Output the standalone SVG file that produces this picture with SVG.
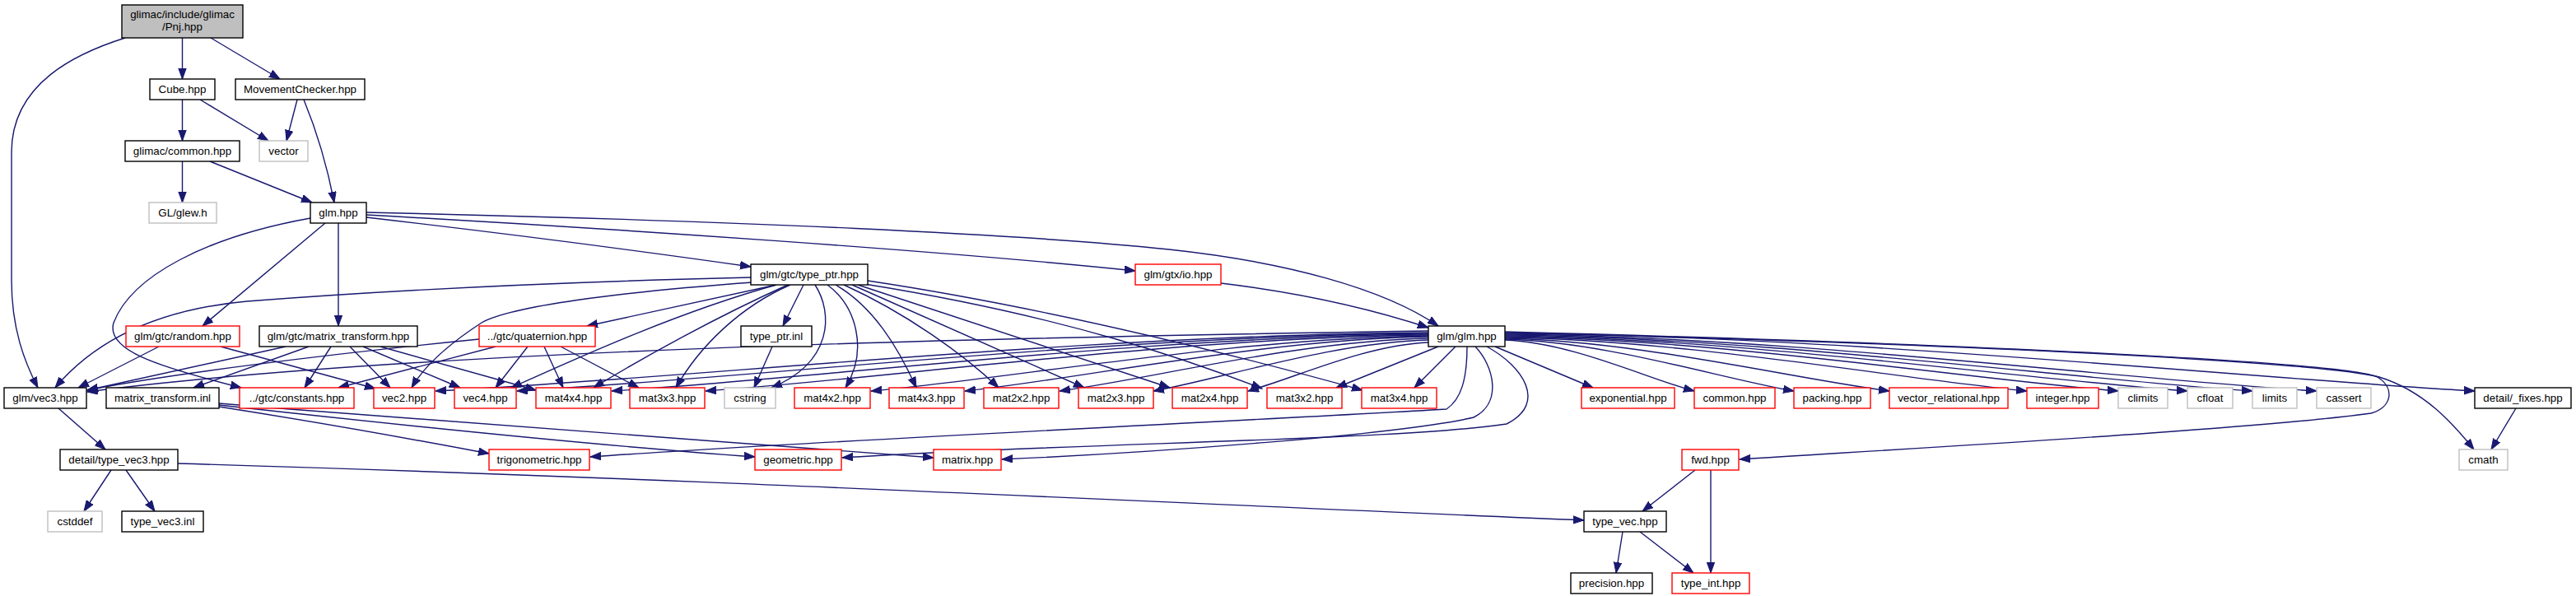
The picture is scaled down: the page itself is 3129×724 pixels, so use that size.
<svg xmlns="http://www.w3.org/2000/svg" width="3129" height="724" viewBox="0 0 3129 724">
<defs>
<marker id="ah" markerUnits="userSpaceOnUse" markerWidth="15" markerHeight="11" refX="13" refY="5" orient="auto">
<path d="M0,0.3 L13,5 L0,9.7 z" fill="#191970" stroke="#191970" stroke-width="1"/>
</marker>
</defs>
<style>
.bg{fill:#ffffff}
.node rect{fill:#ffffff;stroke:#000000;stroke-width:1.4}
.node.red rect{stroke:#ff0000}
.node.gray rect{stroke:#bfbfbf}
.node.root rect{fill:#bfbfbf}
.node text{font-family:"Liberation Sans",Arial,Helvetica,sans-serif;font-size:13.33px;fill:#000000;text-anchor:middle}
#edges path{fill:none;stroke:#191970;stroke-width:1.4;marker-end:url(#ah)}
</style>
<rect class="bg" x="0" y="0" width="3129" height="724"/>
<g id="edges">
<path d="M221.5,46 L221.5,96"/>
<path d="M256,46 L340,96"/>
<path d="M152,46 C95,64 14,100 14,185 L14,340 C14,400 30,440 46,471"/>
<path d="M221.5,121 L221.5,171"/>
<path d="M243,121 L326,171"/>
<path d="M361,121 L348,171"/>
<path d="M369,121 C385,160 398,205 406,246"/>
<path d="M221.5,196 L221.5,246"/>
<path d="M255,196 L379,246"/>
<path d="M395,271 L246,396"/>
<path d="M411,271 L411,396"/>
<path d="M377,265 C250,288 160,335 138,392 C128,425 190,445 293,471"/>
<path d="M445,264 C600,282 800,308 912,324"/>
<path d="M445,261 C750,278 1150,305 1379,329"/>
<path d="M445,258 C900,268 1250,285 1420,303 C1560,318 1680,350 1747,396"/>
<path d="M1483,344 C1600,358 1680,380 1735,398"/>
<path d="M193,421 L95,471"/>
<path d="M268,421 L456,472"/>
<path d="M347,421 L106,474"/>
<path d="M375,421 L235,471"/>
<path d="M402,421 L370,471"/>
<path d="M425,421 L474,471"/>
<path d="M441,421 L559,471"/>
<path d="M462,421 L651,474"/>
<path d="M266,494 C400,515 520,537 594,551"/>
<path d="M266,492 C500,518 750,543 917,555"/>
<path d="M266,490 C600,518 950,540 1134,556"/>
<path d="M582,412 C400,430 200,455 106,474"/>
<path d="M602,421 L411,471"/>
<path d="M641,421 L602,471"/>
<path d="M661,421 L684,471"/>
<path d="M681,421 L776,471"/>
<path d="M943,346 L713,396"/>
<path d="M912,337 C700,342 480,352 300,366 C180,377 110,420 67,471"/>
<path d="M914,343 C750,355 620,372 585,392 C545,418 515,445 500,471"/>
<path d="M943,346 C820,380 690,440 621,471"/>
<path d="M957,346 C870,385 780,435 721,471"/>
<path d="M960,346 C900,372 850,420 821,471"/>
<path d="M976,346 L951,396"/>
<path d="M990,346 C1012,380 1012,440 937,471"/>
<path d="M1005,346 C1040,372 1055,425 1027,471"/>
<path d="M1015,346 C1060,372 1090,420 1113,471"/>
<path d="M1025,346 C1100,380 1170,430 1213,471"/>
<path d="M1035,346 L1317,471"/>
<path d="M1042,346 L1421,471"/>
<path d="M1050,345 C1300,385 1450,440 1533,472"/>
<path d="M1054,341 C1300,378 1550,445 1655,474"/>
<path d="M938,421 L916,471"/>
<path d="M1735,402 C1200,410 500,425 106,476"/>
<path d="M1735,404 C1313,407 831,460 529,475"/>
<path d="M1735,405 C1348,408 905,460 628,475"/>
<path d="M1735,406 C1388,409 991,460 743,475"/>
<path d="M1735,407 C1428,410 1077,460 857,475"/>
<path d="M1735,408 C1498,411 1227,460 1058,475"/>
<path d="M1735,409 C1538,412 1313,460 1172,475"/>
<path d="M1735,411 C1578,414 1399,460 1287,475"/>
<path d="M1735,413 C1618,416 1484,460 1401,475"/>
<path d="M1735,416 C1658,419 1571,460 1516,475"/>
<path d="M1747,421 L1623,471"/>
<path d="M1768,421 L1718,471"/>
<path d="M1782,421 C1782,460 1775,485 1757,497 C1500,512 1000,535 717,555"/>
<path d="M1792,421 C1815,445 1825,490 1790,507 C1700,528 1400,550 1217,558"/>
<path d="M1806,421 C1850,445 1880,490 1830,515 C1700,535 1300,538 1023,556"/>
<path d="M1816,421 L1935,471"/>
<path d="M1828,413 C1909,416 2001,460 2058,475"/>
<path d="M1828,412 C1951,415 2091,460 2179,475"/>
<path d="M1828,411 C1991,414 2178,460 2295,475"/>
<path d="M1828,410 C2050,413 2304,460 2462,475"/>
<path d="M1828,409 C2089,412 2387,460 2573,475"/>
<path d="M1828,408 C2118,411 2450,460 2657,475"/>
<path d="M1828,407 C2146,410 2509,460 2736,475"/>
<path d="M1828,406 C2173,409 2568,460 2814,475"/>
<path d="M1828,405 C2240,408 2712,458 3006,475"/>
<path d="M1828,404 C2400,418 2820,440 2890,458 C2945,475 2980,515 3005,546"/>
<path d="M1828,403 C2400,418 2850,440 2888,458 C2910,472 2905,495 2880,502 C2750,520 2400,540 2113,558"/>
<path d="M3056,496 L3026,546"/>
<path d="M2059,571 L1995,621"/>
<path d="M2078,571 L2078,696"/>
<path d="M1971,646 L1963,696"/>
<path d="M1992,646 L2057,696"/>
<path d="M216,563 C800,580 1400,610 1924,632"/>
<path d="M71,496 L128,546"/>
<path d="M135,571 L102,621"/>
<path d="M153,571 L188,621"/>
</g>
<g id="n_pnj" class="node root"><rect x="148" y="6" width="147" height="40"/><text x="221.5" y="22">glimac/include/glimac</text><text x="221.5" y="37">/Pnj.hpp</text></g>
<g id="n_cube" class="node"><rect x="182" y="96" width="79" height="25"/><text x="221.5" y="113">Cube.hpp</text></g>
<g id="n_mc" class="node"><rect x="286" y="96" width="157" height="25"/><text x="364.5" y="113">MovementChecker.hpp</text></g>
<g id="n_common" class="node"><rect x="152" y="171" width="139" height="25"/><text x="221.5" y="188">glimac/common.hpp</text></g>
<g id="n_vector" class="node gray"><rect x="315" y="171" width="59" height="25"/><text x="344.5" y="188">vector</text></g>
<g id="n_glew" class="node gray"><rect x="181" y="246" width="82" height="25"/><text x="222" y="263">GL/glew.h</text></g>
<g id="n_glmhpp" class="node"><rect x="377" y="246" width="68" height="25"/><text x="411" y="263">glm.hpp</text></g>
<g id="n_typeptr" class="node"><rect x="912" y="321" width="142" height="25"/><text x="983" y="338">glm/gtc/type_ptr.hpp</text></g>
<g id="n_io" class="node red"><rect x="1379" y="321" width="104" height="25"/><text x="1431" y="338">glm/gtx/io.hpp</text></g>
<g id="n_random" class="node red"><rect x="153" y="396" width="138" height="25"/><text x="222" y="413">glm/gtc/random.hpp</text></g>
<g id="n_mtrans" class="node"><rect x="315" y="396" width="192" height="25"/><text x="411" y="413">glm/gtc/matrix_transform.hpp</text></g>
<g id="n_quat" class="node red"><rect x="582" y="396" width="141" height="25"/><text x="652.5" y="413">../gtc/quaternion.hpp</text></g>
<g id="n_typeptrinl" class="node"><rect x="900" y="396" width="86" height="25"/><text x="943" y="413">type_ptr.inl</text></g>
<g id="n_glmglm" class="node"><rect x="1735" y="396" width="93" height="25"/><text x="1781.5" y="413">glm/glm.hpp</text></g>
<g id="n_vec3" class="node"><rect x="5" y="471" width="100" height="25"/><text x="55" y="488">glm/vec3.hpp</text></g>
<g id="n_mtinl" class="node"><rect x="129" y="471" width="137" height="25"/><text x="197.5" y="488">matrix_transform.inl</text></g>
<g id="n_constants" class="node red"><rect x="291" y="471" width="139" height="25"/><text x="360.5" y="488">../gtc/constants.hpp</text></g>
<g id="n_vec2" class="node red"><rect x="454" y="471" width="74" height="25"/><text x="491" y="488">vec2.hpp</text></g>
<g id="n_vec4" class="node red"><rect x="552" y="471" width="75" height="25"/><text x="589.5" y="488">vec4.hpp</text></g>
<g id="n_mat4x4" class="node red"><rect x="651" y="471" width="91" height="25"/><text x="696.5" y="488">mat4x4.hpp</text></g>
<g id="n_mat3x3" class="node red"><rect x="765" y="471" width="91" height="25"/><text x="810.5" y="488">mat3x3.hpp</text></g>
<g id="n_cstring" class="node gray"><rect x="880" y="471" width="62" height="25"/><text x="911" y="488">cstring</text></g>
<g id="n_mat4x2" class="node red"><rect x="965" y="471" width="92" height="25"/><text x="1011" y="488">mat4x2.hpp</text></g>
<g id="n_mat4x3" class="node red"><rect x="1080" y="471" width="91" height="25"/><text x="1125.5" y="488">mat4x3.hpp</text></g>
<g id="n_mat2x2" class="node red"><rect x="1195" y="471" width="91" height="25"/><text x="1240.5" y="488">mat2x2.hpp</text></g>
<g id="n_mat2x3" class="node red"><rect x="1310" y="471" width="91" height="25"/><text x="1355.5" y="488">mat2x3.hpp</text></g>
<g id="n_mat2x4" class="node red"><rect x="1424" y="471" width="91" height="25"/><text x="1469.5" y="488">mat2x4.hpp</text></g>
<g id="n_mat3x2" class="node red"><rect x="1539" y="471" width="91" height="25"/><text x="1584.5" y="488">mat3x2.hpp</text></g>
<g id="n_mat3x4" class="node red"><rect x="1654" y="471" width="91" height="25"/><text x="1699.5" y="488">mat3x4.hpp</text></g>
<g id="n_exponential" class="node red"><rect x="1921" y="471" width="113" height="25"/><text x="1977.5" y="488">exponential.hpp</text></g>
<g id="n_commonhpp" class="node red"><rect x="2058" y="471" width="98" height="25"/><text x="2107" y="488">common.hpp</text></g>
<g id="n_packing" class="node red"><rect x="2179" y="471" width="93" height="25"/><text x="2225.5" y="488">packing.hpp</text></g>
<g id="n_vrel" class="node red"><rect x="2295" y="471" width="144" height="25"/><text x="2367" y="488">vector_relational.hpp</text></g>
<g id="n_integer" class="node red"><rect x="2462" y="471" width="87" height="25"/><text x="2505.5" y="488">integer.hpp</text></g>
<g id="n_climits" class="node gray"><rect x="2573" y="471" width="60" height="25"/><text x="2603" y="488">climits</text></g>
<g id="n_cfloat" class="node gray"><rect x="2657" y="471" width="55" height="25"/><text x="2684.5" y="488">cfloat</text></g>
<g id="n_limits" class="node gray"><rect x="2736" y="471" width="54" height="25"/><text x="2763" y="488">limits</text></g>
<g id="n_cassert" class="node gray"><rect x="2814" y="471" width="66" height="25"/><text x="2847" y="488">cassert</text></g>
<g id="n_fixes" class="node"><rect x="3006" y="471" width="117" height="25"/><text x="3064.5" y="488">detail/_fixes.hpp</text></g>
<g id="n_tvec3" class="node"><rect x="73" y="546" width="143" height="25"/><text x="144.5" y="563">detail/type_vec3.hpp</text></g>
<g id="n_trig" class="node red"><rect x="594" y="546" width="122" height="25"/><text x="655" y="563">trigonometric.hpp</text></g>
<g id="n_geometric" class="node red"><rect x="917" y="546" width="105" height="25"/><text x="969.5" y="563">geometric.hpp</text></g>
<g id="n_matrix" class="node red"><rect x="1134" y="546" width="82" height="25"/><text x="1175" y="563">matrix.hpp</text></g>
<g id="n_fwd" class="node red"><rect x="2043" y="546" width="69" height="25"/><text x="2077.5" y="563">fwd.hpp</text></g>
<g id="n_cmath" class="node gray"><rect x="2987" y="546" width="59" height="25"/><text x="3016.5" y="563">cmath</text></g>
<g id="n_cstddef" class="node gray"><rect x="58" y="621" width="66" height="25"/><text x="91" y="638">cstddef</text></g>
<g id="n_tvec3inl" class="node"><rect x="148" y="621" width="99" height="25"/><text x="197.5" y="638">type_vec3.inl</text></g>
<g id="n_typevec" class="node"><rect x="1924" y="621" width="100" height="25"/><text x="1974" y="638">type_vec.hpp</text></g>
<g id="n_precision" class="node"><rect x="1908" y="696" width="99" height="25"/><text x="1957.5" y="713">precision.hpp</text></g>
<g id="n_typeint" class="node red"><rect x="2031" y="696" width="94" height="25"/><text x="2078" y="713">type_int.hpp</text></g>
</svg>
